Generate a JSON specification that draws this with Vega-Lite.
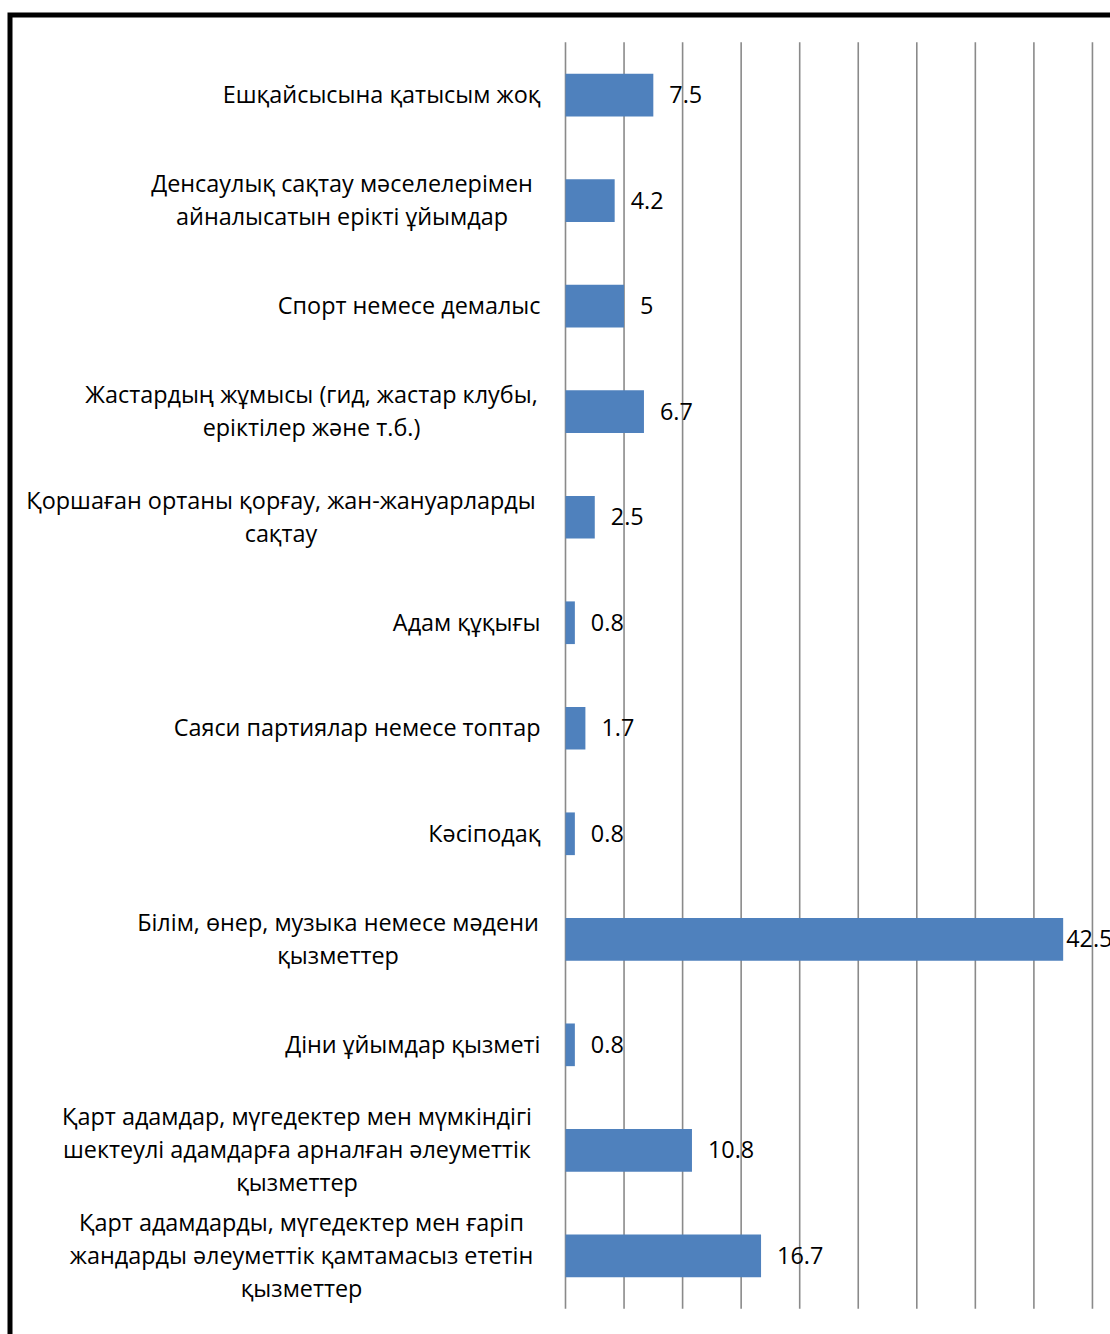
{
  "$schema": "https://vega.github.io/schema/vega-lite/v6.json",
  "width": 1110,
  "height": 1326,
  "autosize": "none",
  "padding": {"left": 10, "top": 15, "right": 0, "bottom": 0},
  "background": "white",
  "config": {
    "view": {"stroke": "#000000", "strokeWidth": 5},
    "font": "Open Sans"
  },
  "datasets": {
    "bars": [
      {"cat": "Ешқайсысына қатысым жоқ", "v": 7.5},
      {"cat": "Денсаулық сақтау мәселелерімен|айналысатын ерікті ұйымдар", "v": 4.2},
      {"cat": "Спорт немесе демалыс", "v": 5},
      {"cat": "Жастардың жұмысы (гид, жастар клубы,|еріктілер және т.б.)", "v": 6.7},
      {"cat": "Қоршаған ортаны қорғау, жан-жануарларды|сақтау", "v": 2.5},
      {"cat": "Адам құқығы", "v": 0.8},
      {"cat": "Саяси партиялар немесе топтар", "v": 1.7},
      {"cat": "Кәсіподақ", "v": 0.8},
      {"cat": "Білім, өнер, музыка немесе мәдени|қызметтер", "v": 42.5},
      {"cat": "Діни ұйымдар қызметі", "v": 0.8},
      {"cat": "Қарт адамдар, мүгедектер мен мүмкіндігі|шектеулі адамдарға арналған әлеуметтік|қызметтер", "v": 10.8},
      {"cat": "Қарт адамдарды, мүгедектер мен ғаріп|жандарды әлеуметтік қамтамасыз ететін|қызметтер", "v": 16.7}
    ],
    "grid": [
      {"g": 0}, {"g": 5}, {"g": 10}, {"g": 15}, {"g": 20},
      {"g": 25}, {"g": 30}, {"g": 35}, {"g": 40}, {"g": 45}
    ]
  },
  "layer": [
    {
      "data": {"name": "grid"},
      "mark": {"type": "rule", "stroke": "#8a8a8a", "strokeWidth": 1.6},
      "encoding": {
        "x": {"field": "g", "type": "quantitative", "scale": {"domain": [-47.438, 47.353], "nice": false, "zero": false}, "axis": null},
        "y": {"datum": 0, "type": "quantitative", "scale": {"domain": [-0.025503, 1.021557], "nice": false, "zero": false}, "axis": null},
        "y2": {"datum": 1}
      }
    },
    {
      "data": {"name": "bars"},
      "mark": {"type": "bar", "color": "#4F81BD"},
      "encoding": {
        "y": {
          "field": "cat", "type": "nominal", "sort": null,
          "scale": {"type": "band", "paddingInner": 0.5955, "paddingOuter": 0.5809, "align": 0.4796},
          "axis": {
            "title": null,
            "domain": false,
            "ticks": false,
            "tickSize": 0,
            "grid": false,
            "labelPadding": -530,
            "labelLimit": 1000,
            "labelFont": "Open Sans",
            "labelFontSize": 23.4,
            "labelColor": "#000000",
            "labelBaseline": "middle",
            "labelLineHeight": 33,
            "labelExpr": "split(datum.label, '|')",
            "labelAlign": {"condition": {"test": "indexof(datum.value, '|') >= 0", "value": "center"}, "value": "right"},
            "encoding": {
              "labels": {
                "dx": {
                  "condition": [
                    {"test": "indexof(datum.value, 'Денсаулық') === 0", "value": -198.5},
                    {"test": "indexof(datum.value, 'Жастардың') === 0", "value": -229},
                    {"test": "indexof(datum.value, 'Қоршаған') === 0", "value": -259.5},
                    {"test": "indexof(datum.value, 'Білім') === 0", "value": -202.5},
                    {"test": "indexof(datum.value, 'Қарт адамдар,') === 0", "value": -243.5},
                    {"test": "indexof(datum.value, 'Қарт адамдарды') === 0", "value": -239}
                  ],
                  "value": 0
                },
                "dy": {
                  "condition": [
                    {"test": "length(split(datum.value, '|')) === 3", "value": -32},
                    {"test": "length(split(datum.value, '|')) === 2", "value": -15.5}
                  ],
                  "value": 1
                }
              }
            }
          }
        },
        "x": {"field": "v", "type": "quantitative", "scale": {"domain": [-47.438, 47.353], "nice": false, "zero": false}, "axis": null},
        "x2": {"datum": 0}
      }
    },
    {
      "data": {"name": "bars"},
      "mark": {"type": "text", "align": "left", "baseline": "middle", "dx": {"expr": "datum.v > 40 ? 3 : 16"}, "dy": 1, "font": "Open Sans", "fontSize": 23.4, "color": "#000000"},
      "encoding": {
        "y": {"field": "cat", "type": "nominal", "sort": null, "scale": {"type": "band", "paddingInner": 0.5955, "paddingOuter": 0.5809, "align": 0.4796}, "axis": null},
        "x": {"field": "v", "type": "quantitative", "scale": {"domain": [-47.438, 47.353], "nice": false, "zero": false}, "axis": null},
        "text": {"field": "v", "type": "quantitative", "format": "~g"}
      }
    }
  ],
  "resolve": {"scale": {"y": "independent"}}
}
